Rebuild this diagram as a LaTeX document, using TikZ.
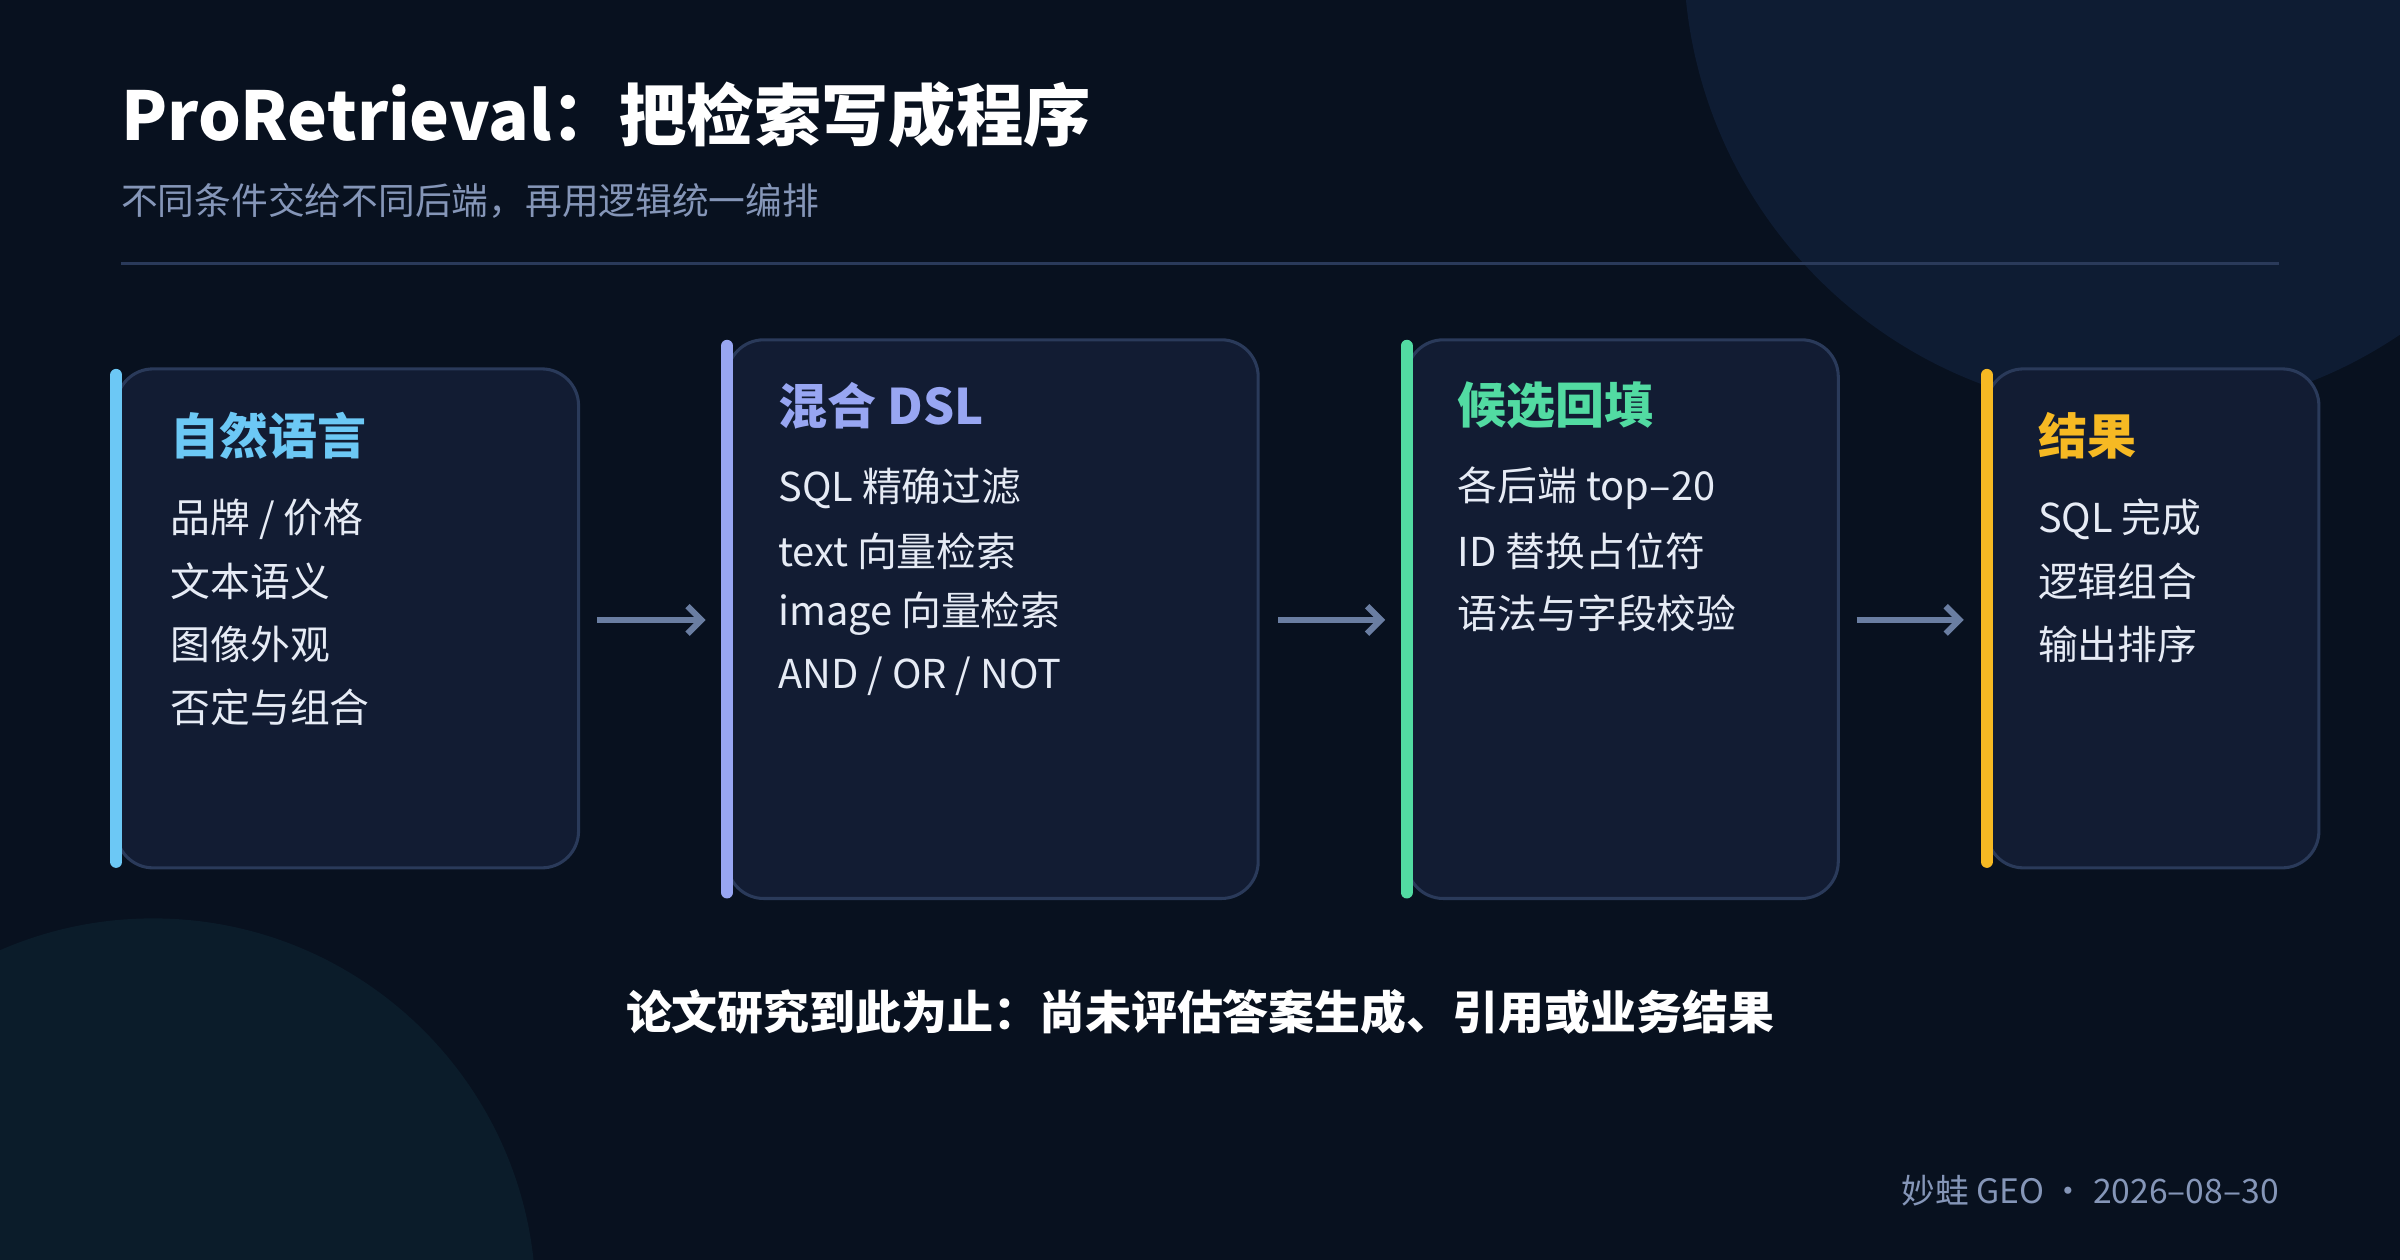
\documentclass[tikz,border=0pt]{standalone}
\usepackage{fontspec}
\setmainfont{Noto Sans CJK SC}
\usetikzlibrary{arrows.meta}
\definecolor{bg}{HTML}{08111F}
\definecolor{circA}{HTML}{0E1C33}
\definecolor{circB}{HTML}{0B1C2A}
\definecolor{boxf}{HTML}{121C33}
\definecolor{boxd}{HTML}{2A3A5A}
\definecolor{sub}{HTML}{8596B8}
\definecolor{arr}{HTML}{6A7EA2}
\definecolor{txt}{HTML}{E6EBF5}
\definecolor{cA}{HTML}{6CC8F5}
\definecolor{cB}{HTML}{98A6F2}
\definecolor{cC}{HTML}{52DBA2}
\definecolor{cD}{HTML}{F6B923}
\begin{document}
\begin{tikzpicture}[x=1pt,y=-1pt,
 box/.style={draw=boxd,line width=2pt,fill=boxf,rounded corners=24pt},
 bar/.style={line width=8pt,line cap=round},
 head/.style={anchor=west,font=\fontsize{32}{36}\selectfont\bfseries},
 item/.style={anchor=west,font=\fontsize{26}{30}\selectfont,text=txt},
 flow/.style={draw=arr,line width=4pt,-{Straight Barb[length=9pt,width=18pt]}}]
\fill[bg] (0,0) rectangle (1568,823);
\useasboundingbox (0,0) rectangle (1568,823);
\begin{scope}
\clip (0,0) rectangle (1568,823);
\fill[circA] (1400,-30) circle (300);
\fill[circB] (100,850) circle (250);
\end{scope}
\node[anchor=base west,font=\fontsize{44}{50}\selectfont\bfseries,text=white,inner sep=0] (title) at (79,92) {ProRetrieval：把检索写成程序};
\node[anchor=base west,font=\fontsize{24}{28}\selectfont,text=sub,inner sep=0] (subt) at (79,140) {不同条件交给不同后端，再用逻辑统一编排};
\draw[boxd,line width=2pt] (79,172) coordinate (l1) -- (1489,172) coordinate (l2);
% boxes
\draw[box] (76,241) rectangle (378,567); \draw[bar,cA] (76,245) coordinate (a1) -- (76,563) coordinate (a2);
\draw[box] (475,222) rectangle (822,587); \draw[bar,cB] (475,226) coordinate (b1) -- (475,583) coordinate (b2);
\draw[box] (919,222) rectangle (1201,587); \draw[bar,cC] (919,226) coordinate (c1) -- (919,583) coordinate (c2);
\draw[box] (1298,241) rectangle (1515,567); \draw[bar,cD] (1298,245) coordinate (d1) -- (1298,563) coordinate (d2);
\node[head,text=cA] (h1) at (108,285) {自然语言};
\node[item] (i11) at (108,339) {品牌 / 价格};
\node[item] (i12) at (108,380) {文本语义};
\node[item] (i13) at (108,421) {图像外观};
\node[item] (i14) at (108,462) {否定与组合};
\node[head,text=cB] (h2) at (505,265) {混合 DSL};
\node[item] (i21) at (505,319) {SQL 精确过滤};
\node[item] (i22) at (505,360) {text 向量检索};
\node[item] (i23) at (505,401) {image 向量检索};
\node[item] (i24) at (505,442) {AND / OR / NOT};
\node[head,text=cC] (h3) at (949,265) {候选回填};
\node[item] (i31) at (949,319) {各后端 top–20};
\node[item] (i32) at (949,360) {ID 替换占位符};
\node[item] (i33) at (949,401) {语法与字段校验};
\node[head,text=cD] (h4) at (1328,285) {结果};
\node[item] (i41) at (1328,339) {SQL 完成};
\node[item] (i42) at (1328,380) {逻辑组合};
\node[item] (i43) at (1328,421) {输出排序};
\coordinate (p1) at (390,405); \coordinate (q1) at (461,405);
\coordinate (p2) at (835,405); \coordinate (q2) at (905,405);
\coordinate (p3) at (1213,405); \coordinate (q3) at (1283,405);
\draw[flow] (p1) -- (q1);
\draw[flow] (p2) -- (q2);
\draw[flow] (p3) -- (q3);
\node[font=\fontsize{30}{34}\selectfont\bfseries,text=white] (note) at (784,661) {论文研究到此为止：尚未评估答案生成、引用或业务结果};
\node[anchor=east,font=\fontsize{22}{26}\selectfont,text=sub,inner sep=0] (foot) at (1489,778) {妙蛙 GEO · 2026–08–30};
\end{tikzpicture}
\end{document}
